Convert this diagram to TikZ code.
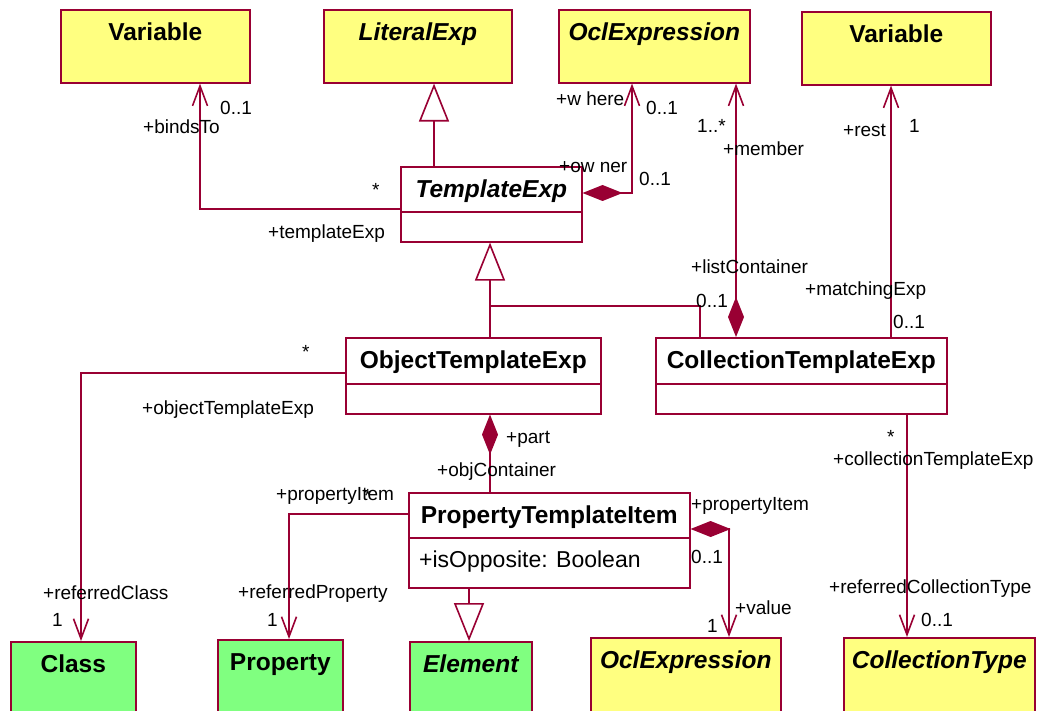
\documentclass[tikz,border=0pt]{standalone}
\usepackage{fontspec}
\setmainfont{Liberation Sans}
\usepackage{tikz}
\usetikzlibrary{arrows.meta}
\definecolor{umlred}{HTML}{990033}
\definecolor{umlyellow}{HTML}{FFFF80}
\definecolor{umlgreen}{HTML}{80FF80}
\tikzset{classbox/.style={draw=umlred, line width=1.6pt, fill=umlyellow, inner sep=0pt, anchor=north west, font=\fontsize{24.5}{28}\selectfont\bfseries, text height=31pt, text depth=#1},
  abstract/.style={font=\fontsize{24.5}{28}\selectfont\bfseries\itshape},
  lbl/.style={anchor=base west, inner sep=0pt, font=\fontsize{19}{22}\selectfont},
  umlline/.style={draw=umlred, line width=1.6pt},
  assoc/.style={umlline, -{Straight Barb[length=20pt,width=15pt]}},
  comp/.style={umlline, {Diamond[length=40pt,width=16pt,fill=umlred]}-},
  compnav/.style={umlline, {Diamond[length=40pt,width=16pt,fill=umlred]}-{Straight Barb[length=20pt,width=15pt]}},
  gen/.style={umlline, -{Triangle[length=38pt,width=30pt,fill=white]}},}

\begin{document}
\begin{tikzpicture}[x=1pt, y=-1pt]
\useasboundingbox (0,0) rectangle (1048,711);
\clip (0,0) rectangle (1048,711);
% classes
\node [classbox=42pt, minimum width=189pt] (var1) at (60,9) {Variable};
\node [classbox=42pt, abstract, minimum width=188pt] (litexp) at (323,9) {LiteralExp};
\node [classbox=42pt, abstract, minimum width=191pt] (oclt) at (558,9) {OclExpression};
\node [classbox=42pt, minimum width=189pt] (var2) at (801,11) {Variable};
\node [classbox=44pt, abstract, fill=white, minimum width=181pt] (tmpl) at (400,166) {TemplateExp};
\node [classbox=45pt, fill=white, minimum width=255pt] (objte) at (345,337) {ObjectTemplateExp};
\node [classbox=45pt, fill=white, minimum width=291pt] (colte) at (655,337) {CollectionTemplateExp};
\node [classbox=64pt, fill=white, minimum width=281pt] (pti) at (408,492) {PropertyTemplateItem};
\node [classbox=50pt, fill=umlgreen, minimum width=125pt] (class) at (10,641) {Class};
\node [classbox=50pt, fill=umlgreen, minimum width=125pt] (prop) at (217,639) {Property};
\node [classbox=50pt, abstract, fill=umlgreen, minimum width=122pt] (elem) at (409,641) {Element};
\node [classbox=50pt, abstract, minimum width=190pt] (oclb) at (590,637) {OclExpression};
\node [classbox=50pt, abstract, minimum width=191pt] (colltype) at (843,637) {CollectionType};
\draw[umlline] ([yshift=-46pt]tmpl.north west) -- ([yshift=-46pt]tmpl.north east);
\draw[umlline] ([yshift=-47pt]objte.north west) -- ([yshift=-47pt]objte.north east);
\draw[umlline] ([yshift=-47pt]colte.north west) -- ([yshift=-47pt]colte.north east);
\draw[umlline] ([yshift=-46pt]pti.north west) -- ([yshift=-46pt]pti.north east);
\node [lbl, font=\fontsize{23}{27}\selectfont] (isopp) at (419,567) {+isOpposite: Boolean};
% generalizations
\coordinate (genjoin) at (490,306);
\draw[gen] (tmpl.north -| 434,0) -- (litexp.south -| 434,0);
\draw[gen] (objte.north -| genjoin) -- (tmpl.south -| genjoin);
\draw[umlline] (genjoin) -| (colte.north -| 700,0);
\draw[gen] (pti.south -| 469,0) -- (elem.north -| 469,0);
% associations
\draw[assoc] (tmpl.west |- 0,209) -| (var1.south -| 200,0);
\draw[compnav] (tmpl.east |- 0,193) -| (oclt.south -| 632,0);
\draw[compnav] (colte.north -| 736,0) -- (oclt.south -| 736,0);
\draw[assoc] (colte.north -| 891,0) -- (var2.south -| 891,0);
\draw[assoc] (objte.west |- 0,373) -| (class.north -| 81,0);
\draw[comp] (objte.south -| 490,0) -- (pti.north -| 490,0);
\draw[assoc] (pti.west |- 0,514) -| (prop.north -| 289,0);
\draw[compnav] (pti.east |- 0,529) -| (oclb.north -| 729,0);
\draw[assoc] (colte.south -| 907,0) -- (colltype.north -| 907,0);
% role names and multiplicities
\node [lbl] (m1) at (220,115) {0..1};
\node [lbl] (r1) at (143,134) {+bindsTo};
\node [lbl] (m2) at (372,197) {*};
\node [lbl] (r2) at (268,238) {+templateExp};
\node [lbl] (r3) at (556,106) {+w here};
\node [lbl] (m3) at (646,115) {0..1};
\node [lbl] (r4) at (559,173) {+ow ner};
\node [lbl] (m4) at (639,186) {0..1};
\node [lbl] (m5) at (697,133) {1..*};
\node [lbl] (r5) at (723,156) {+member};
\node [lbl] (r6) at (691,273) {+listContainer};
\node [lbl] (m6) at (696,307) {0..1};
\node [lbl] (r7) at (843,137) {+rest};
\node [lbl] (m7) at (909,133) {1};
\node [lbl] (r8) at (805,295) {+matchingExp};
\node [lbl] (m8) at (893,328) {0..1};
\node [lbl] (m9) at (302,358) {*};
\node [lbl] (r9) at (142,414) {+objectTemplateExp};
\node [lbl] (r10) at (43,599) {+referredClass};
\node [lbl] (m10) at (52,626) {1};
\node [lbl] (r11) at (506,443) {+part};
\node [lbl] (r12) at (437,476) {+objContainer};
\node [lbl] (r13) at (276,500) {+propertyItem};
\node [lbl] (m13) at (364,502) {*};
\node [lbl] (r14) at (238,598) {+referredProperty};
\node [lbl] (m14) at (267,626) {1};
\node [lbl] (r15) at (691,510) {+propertyItem};
\node [lbl] (m15) at (691,563) {0..1};
\node [lbl] (r16) at (735,614) {+value};
\node [lbl] (m16) at (707,632) {1};
\node [lbl] (m17) at (887,443) {*};
\node [lbl] (r17) at (833,465) {+collectionTemplateExp};
\node [lbl] (r18) at (829,593) {+referredCollectionType};
\node [lbl] (m18) at (921,626) {0..1};
\end{tikzpicture}
\end{document}
